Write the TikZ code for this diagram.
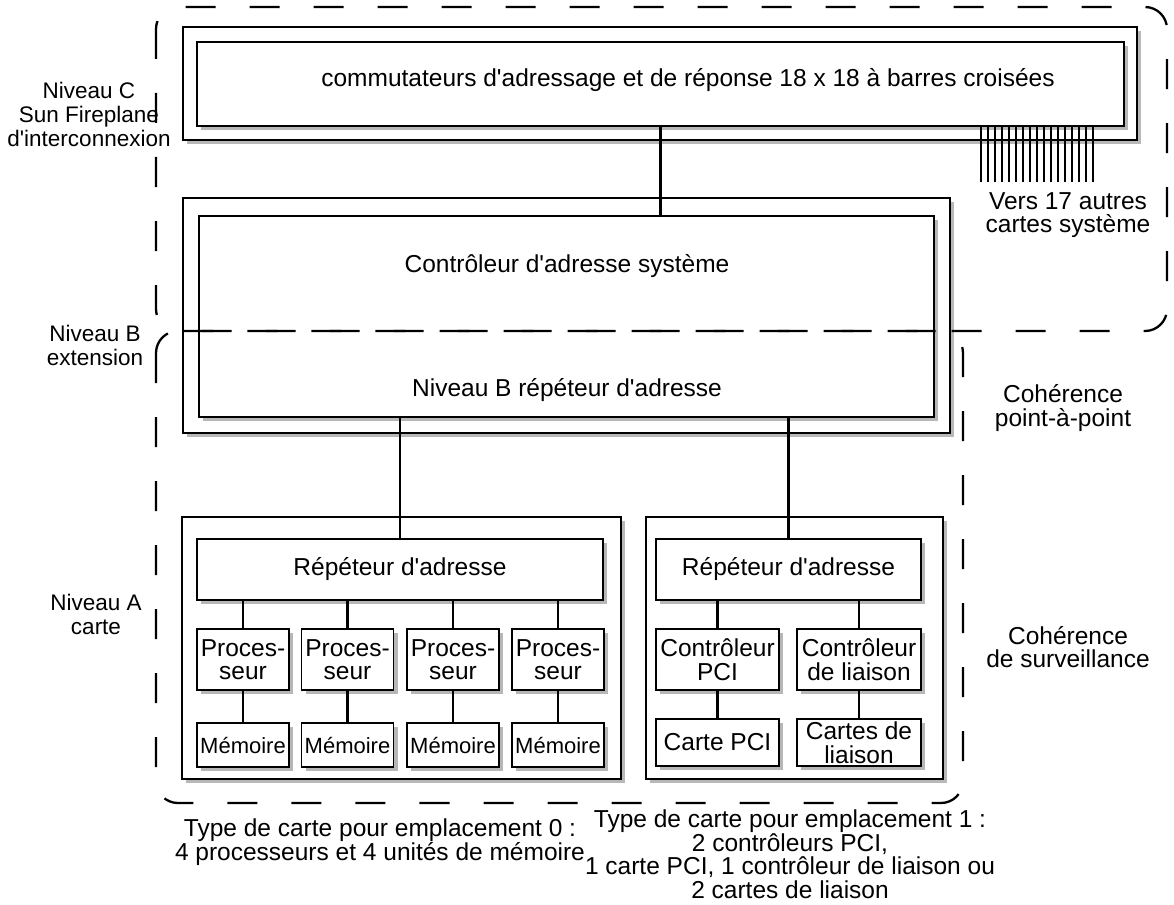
\documentclass[tikz,border=0pt]{standalone}
\usepackage{fontspec}
\setmainfont{Liberation Sans}[Ligatures=TeXOff]
\usetikzlibrary{shadows}

\begin{document}
\begin{tikzpicture}[x=1pt, y=-1pt,
  every node/.style={font=\fontsize{24.5}{23.5}\selectfont, align=center},
  panel/.style={draw, line width=1.4pt, fill=white, inner sep=0pt,
    drop shadow={shadow xshift=4pt, shadow yshift=-4pt, fill=black!35, opacity=0.8}},
  unit/.style={panel},
  small/.style={font=\fontsize{22}{22}\selectfont},
  link/.style={line width=2.4pt},
  zone/.style={dashed, line width=2.3pt, dash pattern=on 30pt off 34pt, rounded corners=22pt},
  lbl/.style={inner sep=0pt},
  level/.style={lbl, font=\fontsize{22.5}{24}\selectfont}]
\useasboundingbox (0,0) rectangle (1174,904);

% ---- level C: crossbar switches
\node[panel, minimum width=954pt, minimum height=113pt] (cframe) at (660,83.5) {};
\node[unit, minimum width=927pt, minimum height=84pt] (xbar) at (660.5,84) {};
\node[lbl] (xbartxt) at (688,80) {commutateurs d'adressage et de réponse 18 x 18 à barres croisées};

% ---- level B: system address controller
\node[panel, minimum width=767pt, minimum height=235pt] (bframe) at (566.5,315.5) {};
\node[unit, minimum width=735pt, minimum height=201pt] (sac) at (566.5,316.5) {};
\node[lbl] (sactxt) at (567,266) {Contrôleur d'adresse système};
\node[lbl] (reptxt) at (567,390) {Niveau B répéteur d'adresse};

% ---- slot 0 board
\node[panel, minimum width=439pt, minimum height=262pt] (board0) at (401.5,648) {};
\node[unit, minimum width=406pt, minimum height=61pt] (rep0) at (400,569.5) {Répéteur d'adresse};
\foreach \i/\x in {1/243,2/347.5,3/453,4/558}{
  \node[unit, minimum width=92pt, minimum height=61pt] (cpu\i) at (\x,659.5) {Proces-\\seur};
  \node[unit, small, minimum width=92pt, minimum height=44pt] (mem\i) at (\x,745) {Mémoire};
  \draw[link] (cpu\i.north |- rep0.south) -- (cpu\i.north);
  \draw[link] (cpu\i.south) -- (mem\i.north);
}

% ---- slot 1 board
\node[panel, minimum width=297pt, minimum height=262pt] (board1) at (794.5,648) {};
\node[unit, minimum width=265pt, minimum height=61pt] (rep1) at (788.5,569.5) {Répéteur d'adresse};
\node[unit, minimum width=123pt, minimum height=61pt] (pcic) at (717.5,659.5) {Contrôleur\\PCI};
\node[unit, minimum width=124pt, minimum height=61pt] (lnkc) at (859,659.5) {Contrôleur\\de liaison};
\node[unit, minimum width=123pt, minimum height=47pt] (pcib) at (717.5,742.5) {Carte PCI};
\node[unit, minimum width=124pt, minimum height=47pt] (lnkb) at (859,742.5) {Cartes de\\liaison};
\draw[link] (pcic.north |- rep1.south) -- (pcic.north);
\draw[link] (lnkc.north |- rep1.south) -- (lnkc.north);
\draw[link] (pcic.south) -- (pcib.north);
\draw[link] (lnkc.south) -- (lnkb.north);

% ---- vertical links between levels
\draw[link] (xbar.south) -- (xbar.south |- sac.north);
\draw[link] (rep0.north |- sac.south) -- (rep0.north);
\draw[link] (rep1.north |- sac.south) -- (rep1.north);

% ---- fan of links towards the other boards
\foreach \k in {0,...,16}{
  \coordinate (f\k) at (981+7*\k,182);
  \draw[line width=2.2pt] (f\k |- xbar.south) -- (f\k);
}
\node[lbl] (others) at (1068,215) {Vers 17 autres\\cartes système};

% ---- coherence domains
\draw[zone] (156,7) rectangle (1167,331);
\draw[zone] (156,331) rectangle (963,803);

% ---- level labels
\node[level] (lvC) at (89,114) {Niveau C\\Sun Fireplane\\d'interconnexion};
\node[level] (lvB) at (95,345) {Niveau B\\extension};
\node[level] (lvA) at (96,614) {Niveau A\\carte};
\node[lbl] (cohP) at (1063,408) {Cohérence\\point-à-point};
\node[lbl] (cohS) at (1068,647) {Cohérence\\de surveillance};

% ---- slot descriptions
\node[lbl] (slot0) at (380,842) {Type de carte pour emplacement 0 :\\4 processeurs et 4 unités de mémoire};
\node[lbl] (slot1) at (790,854) {Type de carte pour emplacement 1 :\\2 contrôleurs PCI,\\1 carte PCI, 1 contrôleur de liaison ou\\2 cartes de liaison};
\end{tikzpicture}
\end{document}
